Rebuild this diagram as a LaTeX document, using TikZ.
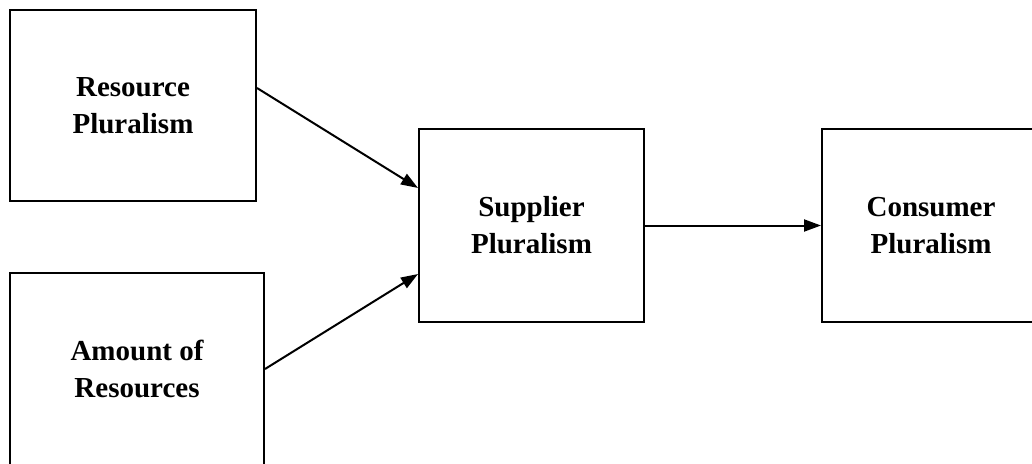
\documentclass[tikz,border=0pt]{standalone}
\usepackage{fontspec}
\setmainfont{Liberation Serif}
\usetikzlibrary{arrows.meta}

\tikzset{
  plbox/.style={draw, line width=2pt, inner sep=0pt, align=center,
    font=\fontsize{29}{37}\selectfont\bfseries},
  plarrow/.style={line width=2pt, -{Triangle[length=17pt,width=12pt]}}
}

\begin{document}
\begin{tikzpicture}[x=1pt, y=-1pt]
\useasboundingbox (0,0) rectangle (1032,463);
\node[plbox, minimum width=246pt, minimum height=191pt] (res) at (133,105.5) {Resource\\Pluralism};
\node[plbox, minimum width=254pt, minimum height=192pt] (amt) at (137,369) {Amount of\\Resources};
\node[plbox, minimum width=225pt, minimum height=193pt] (sup) at (531.5,225.5) {Supplier\\Pluralism};
\node[plbox, minimum width=218pt, minimum height=193pt] (con) at (931,225.5) {Consumer\\Pluralism};
% arrow ends on the box sides
\coordinate (resout) at ([yshift=17.5pt]res.east);
\coordinate (supin1) at ([yshift=37.5pt]sup.west);
\coordinate (supin2) at ([yshift=-48.5pt]sup.west);
\draw[plarrow] (resout) -- (supin1);
\draw[plarrow] (amt.east) -- (supin2);
\draw[plarrow] (sup.east) -- (con.west);
\end{tikzpicture}
\end{document}
